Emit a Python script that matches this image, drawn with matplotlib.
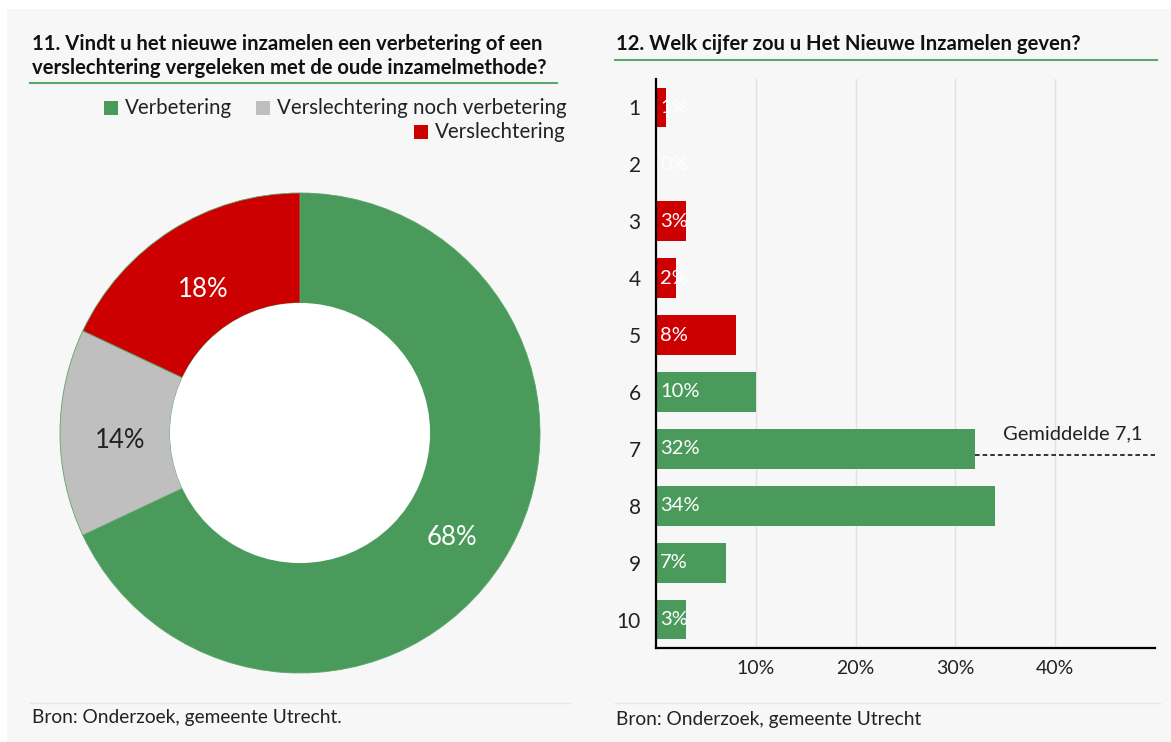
import matplotlib.pyplot as plt
import matplotlib.patches as mpatches
from matplotlib.lines import Line2D
import numpy as np

plt.rcParams['font.family'] = ['Lato', 'DejaVu Sans']

# donut data
donut_labels = ['Verbetering', 'Verslechtering noch verbetering', 'Verslechtering']
donut_values = [68, 14, 18]
donut_colors = ['#4a9a5b', '#bfbfbf', '#cc0000']
donut_text_colors = ['white', '#222222', 'white']

# bar data
grades = ['1', '2', '3', '4', '5', '6', '7', '8', '9', '10']
grade_pct = [1, 0, 3, 2, 8, 10, 32, 34, 7, 3]
grade_colors = ['#cc0000'] * 5 + ['#4a9a5b'] * 5
mean_grade = 7.1

W, H = 1171, 742
fig = plt.figure(figsize=(W / 100, H / 100), dpi=100, facecolor='white')


def fx(px):
    return px / W


def fy(py):
    return 1 - py / H


# light grey panel behind everything
fig.patches.append(mpatches.Rectangle((fx(7), 0), 1 - fx(7), fy(9), transform=fig.transFigure,
                                      facecolor='#f7f7f7', edgecolor='none', zorder=-10))

# ---- left panel ----
fig.text(fx(32), fy(44), '11. Vindt u het nieuwe inzamelen een verbetering of een',
         fontsize=14.6, fontweight='bold', color='#111111', va='center')
fig.text(fx(32), fy(68), 'verslechtering vergeleken met de oude inzamelmethode?',
         fontsize=14.6, fontweight='bold', color='#111111', va='center')
fig.add_artist(Line2D([fx(30), fx(557)], [fy(83), fy(83)], color='#5aa86b', lw=1.5))


def legend_item(x_sq, y, color, text):
    fig.patches.append(mpatches.Rectangle((fx(x_sq), fy(y + 7)), fx(14), 14 / H,
                                          transform=fig.transFigure, facecolor=color,
                                          edgecolor='none'))
    fig.text(fx(x_sq + 21), fy(y), text, fontsize=14.8, color='#222222', va='center')


legend_item(104, 108, donut_colors[0], donut_labels[0])
legend_item(256, 108, donut_colors[1], donut_labels[1])
legend_item(414, 132, donut_colors[2], donut_labels[2])

ax1 = fig.add_axes([fx(300 - 250), fy(433 + 250), 500 / W, 500 / H])
wedges, _ = ax1.pie(donut_values, colors=donut_colors, startangle=90, counterclock=False,
                    radius=0.96, wedgeprops=dict(width=0.44, edgecolor='#5aa56b', linewidth=0.6))
ax1.set_xlim(-1, 1)
ax1.set_ylim(-1, 1)
ax1.set_aspect('equal')
ax1.axis('off')
ax1.add_patch(mpatches.Circle((0, 0), 0.52, facecolor='white', edgecolor='none'))
for w, v, tc in zip(wedges, donut_values, donut_text_colors):
    ang = np.deg2rad((w.theta1 + w.theta2) / 2)
    ax1.text(0.72 * np.cos(ang), 0.72 * np.sin(ang) - 0.032, f'{v}%', color=tc,
             fontsize=18.5, ha='center', va='center')

fig.add_artist(Line2D([fx(30), fx(570)], [fy(703), fy(703)], color='#e6e6e6', lw=1))
fig.text(fx(32), fy(718), 'Bron: Onderzoek, gemeente Utrecht.', fontsize=13.8,
         color='#222222', va='center')

# ---- right panel ----
fig.text(fx(616), fy(44), '12. Welk cijfer zou u Het Nieuwe Inzamelen geven?',
         fontsize=14.6, fontweight='bold', color='#111111', va='center')
fig.add_artist(Line2D([fx(615), fx(1157)], [fy(60), fy(60)], color='#5aa86b', lw=1.5))

ax2 = fig.add_axes([fx(656), fy(648), 499 / W, 569 / H])
ax2.set_facecolor('none')
ypos = np.arange(len(grades))
ax2.barh(ypos, grade_pct, height=0.7, color=grade_colors, zorder=3)
ax2.set_xlim(0, 50)
ax2.set_ylim(len(grades) - 0.5, -0.5)
ax2.set_yticks(ypos)
ax2.set_yticklabels(grades, fontsize=15, color='#222222')
ax2.set_xticks([10, 20, 30, 40])
ax2.set_xticklabels(['10%', '20%', '30%', '40%'], fontsize=14, color='#222222')
ax2.tick_params(length=0, axis='y', pad=11)
ax2.tick_params(length=0, axis='x', pad=9)
ax2.grid(axis='x', color='#e2e2e2', lw=1, zorder=0)
for s in ['top', 'right']:
    ax2.spines[s].set_visible(False)
for s in ['left', 'bottom']:
    ax2.spines[s].set_linewidth(1.6)
    ax2.spines[s].set_color('black')
    ax2.spines[s].set_zorder(5)
for y, v in zip(ypos, grade_pct):
    ax2.text(0.4, y, f'{v}%', color='white', fontsize=14.5, va='center', ha='left', zorder=4)

mean_y = mean_grade - 1
ax2.plot([grade_pct[6], 50], [mean_y, mean_y], color='black', lw=1.1, ls=(0, (3, 2)),
         zorder=4, clip_on=False)
ax2.text(48.7, mean_y - 0.22, 'Gemiddelde 7,1', fontsize=14.5, color='#222222',
         ha='right', va='bottom')

fig.add_artist(Line2D([fx(615), fx(1160)], [fy(703), fy(703)], color='#e6e6e6', lw=1))
fig.text(fx(616), fy(720), 'Bron: Onderzoek, gemeente Utrecht', fontsize=13.8,
         color='#222222', va='center')

fig.savefig('out.png', dpi=100, facecolor='white')
